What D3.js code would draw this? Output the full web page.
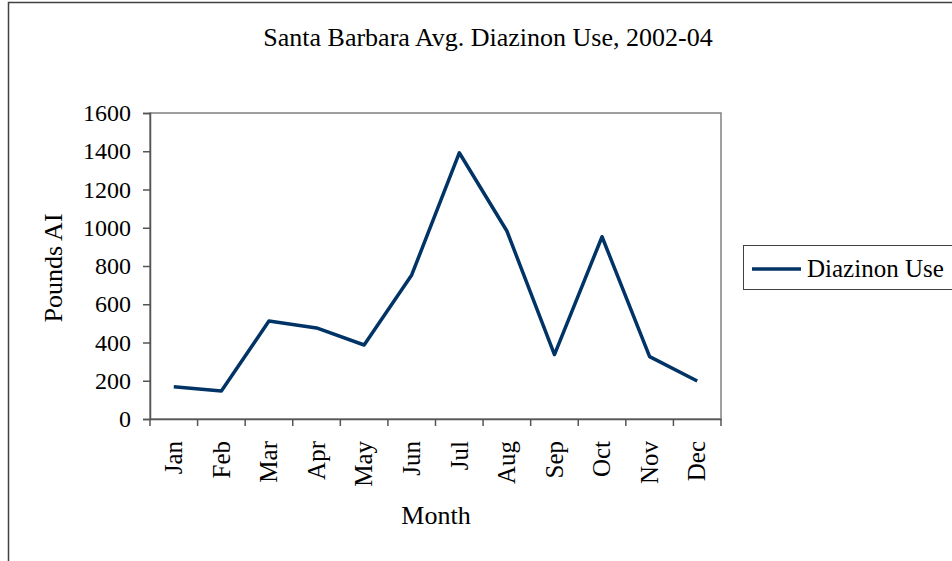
<!DOCTYPE html>
<html><head><meta charset="utf-8">
<script src="https://cdn.jsdelivr.net/npm/d3@7"></script>
<style>html,body{margin:0;padding:0;background:#fff;}svg{display:block;}</style>
</head><body>
<script>
const months = ["Jan","Feb","Mar","Apr","May","Jun","Jul","Aug","Sep","Oct","Nov","Dec"];
const diazinonUse = [169, 146, 512, 476, 387, 753, 1392, 983, 337, 953, 326, 199];
const yTicks = [0,200,400,600,800,1000,1200,1400,1600];
const title = "Santa Barbara Avg. Diazinon Use, 2002-04";
const seriesName = "Diazinon Use";

const W = 952, H = 561;
const svg = d3.select("body").append("svg").attr("width", W).attr("height", H);
const font = "'Liberation Serif','Times New Roman',serif";

// outer chart border
svg.append("rect").attr("x", 8.5).attr("y", 2.5).attr("width", 1000).attr("height", 700)
  .attr("fill", "none").attr("stroke", "#404040").attr("stroke-width", 1.5);

const L = 150, R = 721, T = 113, B = 419;
const x = d3.scaleBand().domain(months).range([L, R]).padding(0);
const y = d3.scaleLinear().domain([0, 1600]).range([B, T]);

// plot area border
svg.append("rect").attr("x", L).attr("y", T).attr("width", R - L).attr("height", B - T)
  .attr("fill", "none").attr("stroke", "#808080").attr("stroke-width", 1.5);

// y axis
const yAxis = svg.append("g").attr("transform", `translate(${L},0)`)
  .call(d3.axisLeft(y).tickValues(yTicks).tickSize(7).tickPadding(12).tickFormat(d3.format("d")));
yAxis.selectAll("path,line").attr("stroke", "#555").attr("stroke-width", 1.5);
yAxis.selectAll("text").attr("font-family", font).attr("font-size", 24).attr("fill", "#000");

// x axis
const xAxis = svg.append("g").attr("transform", `translate(0,${B})`)
  .call(d3.axisBottom(x).tickSize(0).tickSizeOuter(0));
xAxis.select("path").attr("stroke", "#555").attr("stroke-width", 1.5);
xAxis.selectAll(".tick line").remove();
const bounds = months.map(m => x(m)).concat([R]);
xAxis.selectAll("line.bt").data(bounds).enter().append("line").attr("class", "bt")
  .attr("x1", d => d).attr("x2", d => d).attr("y1", 0).attr("y2", 7)
  .attr("stroke", "#555").attr("stroke-width", 1.5);
xAxis.selectAll(".tick text")
  .attr("font-family", font).attr("font-size", 25).attr("fill", "#000")
  .attr("transform", "rotate(-90)")
  .attr("text-anchor", "end")
  .attr("x", -22).attr("y", 0).attr("dy", "0.33em");

// line
const line = d3.line().x((d, i) => x(months[i]) + x.bandwidth() / 2).y(d => y(d));
svg.append("path").datum(diazinonUse).attr("d", line)
  .attr("fill", "none").attr("stroke", "#003366").attr("stroke-width", 3.5)
  .attr("stroke-linejoin", "round");

// title
svg.append("text").attr("x", 488).attr("y", 46).attr("text-anchor", "middle")
  .attr("font-family", font).attr("font-size", 26).text(title);

// axis titles
svg.append("text").attr("transform", "translate(62,268) rotate(-90)").attr("text-anchor", "middle")
  .attr("font-family", font).attr("font-size", 26).text("Pounds AI");
svg.append("text").attr("x", 436).attr("y", 524).attr("text-anchor", "middle")
  .attr("font-family", font).attr("font-size", 26).text("Month");

// legend
const lg = svg.append("g");
lg.append("rect").attr("x", 743.5).attr("y", 245.5).attr("width", 230).attr("height", 44)
  .attr("fill", "#fff").attr("stroke", "#404040").attr("stroke-width", 1);
lg.append("line").attr("x1", 752).attr("x2", 801).attr("y1", 269).attr("y2", 269)
  .attr("stroke", "#003366").attr("stroke-width", 3.5);
lg.append("text").attr("x", 807).attr("y", 277).attr("font-family", font).attr("font-size", 25)
  .text(seriesName);
</script>
</body></html>
